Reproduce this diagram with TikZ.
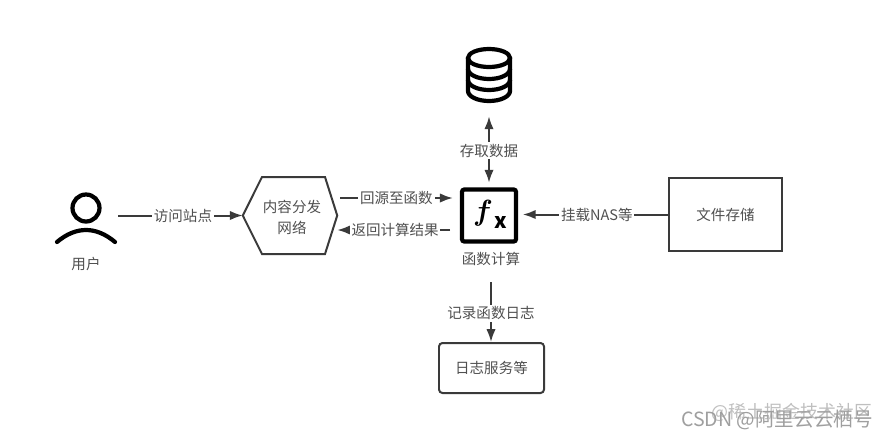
\documentclass[tikz,border=0pt]{standalone}
\usepackage{fontspec}
\usepackage{bm}
\setmainfont{Noto Sans CJK SC}
\usetikzlibrary{shapes, arrows.meta, positioning, calc}

\definecolor{inkdark}{HTML}{3A3A3A}
\definecolor{inktext}{HTML}{505050}
\tikzset{
    box/.style={draw=inkdark, line width=1.7pt, text=inktext},
    flow/.style={-{Latex[length=11pt, width=8pt]}, draw=inkdark, line width=1.7pt},
    twoway/.style={{Latex[length=11pt, width=8pt]}-{Latex[length=11pt, width=8pt]}, draw=inkdark, line width=1.7pt},
    lbl/.style={fill=white, text=inktext, inner sep=1.5pt, font=\fontsize{12.4pt}{14pt}\selectfont},
    caption/.style={text=inktext, inner sep=0pt, font=\fontsize{12.4pt}{14pt}\selectfont},
    icon/.style={draw=black, line width=3.6pt, line cap=round}
}

\begin{document}
\begin{tikzpicture}[x=0.03cm, y=-0.03cm]
    \useasboundingbox (0,0) rectangle (888,437);
    \fill[white] (0,0) rectangle (888,437);

    % User
    \node[inner sep=0pt, minimum width=1.92cm, minimum height=2.4cm] (user) at (86,217) {};
    \draw[icon] (86,208) circle (13.5);
    \draw[icon] (57,242) .. controls (76,226) and (96,226) .. (115,242);
    \node[caption] (userlabel) at (86,264) {用户};

    % Content network
    \node[inner sep=0pt, minimum width=2.82cm, minimum height=2.31cm] (cdn) at (290,215.5) {};
    \node[text=inktext, align=center, font=\fontsize{12.4pt}{18pt}\selectfont] (cdntext) at (292,217) {内容分发\\网络};
    \draw[box] (cdn.west) -- (262,177) -- (325,177) -- (cdn.east) -- (325,254) -- (262,254) -- cycle;

    % Function
    \node[draw=black, line width=3.6pt, rounded corners=2pt, minimum width=1.62cm, minimum height=1.56cm,
          inner sep=0pt] (fx) at (489,215.5) {};
    \node[inner sep=0pt, font=\fontsize{54pt}{54pt}\selectfont] (fxf) at (483,213) {$\bm{f}$};
    \node[inner sep=0pt, font=\bfseries\fontsize{18pt}{18pt}\selectfont] (fxx) at (501,222) {x};
    \node[caption] (fxlabel) at (491,259) {函数计算};

    % Database
    \node[inner sep=0pt, minimum width=1.32cm, minimum height=1.65cm] (db) at (489,74.5) {};
    \draw[icon] (468,58) -- (468,91) arc[start angle=180, end angle=360, x radius=21, y radius=-10] -- (510,58);
    \draw[icon] (489,58) ellipse (21 and 9);
    \draw[icon] (468,69) arc[start angle=180, end angle=360, x radius=21, y radius=-10];
    \draw[icon] (468,80) arc[start angle=180, end angle=360, x radius=21, y radius=-10];

    % Boxes
    \node[box, minimum width=3.39cm, minimum height=2.19cm, font=\fontsize{12.4pt}{14pt}\selectfont] (store) at (725.5,214.5) {文件存储};
    \node[box, rounded corners=3pt, minimum width=3.15cm, minimum height=1.5cm, font=\fontsize{12.4pt}{14pt}\selectfont] (logs) at (491.5,368) {日志服务等};

    % Connections
    \draw[flow] (user.east |- cdn.west) -- (cdn.west) node[lbl, pos=0.52] {访问站点};
    \coordinate (cdnout) at (340,198);
    \coordinate (fxout) at (450,230);
    \draw[flow] (cdnout) -- ([xshift=-6pt]fx.west |- cdnout) node[lbl, pos=0.5] {回源至函数};
    \draw[flow] (fxout) -- (cdn.east |- fxout) node[lbl, pos=0.487] {返回计算结果};
    \draw[flow] (store.west) -- ([xshift=4pt]fx.east |- store.west) node[lbl, pos=0.49] {挂载NAS等};
    \draw[twoway, shorten <=12pt, shorten >=4pt] (db.south) -- (fx.north) node[lbl, pos=0.57] {存取数据};
    \coordinate (logstart) at (491,282);
    \draw[flow] (logstart) -- (logs.north -| logstart) node[lbl, pos=0.52] {记录函数日志};

    % Watermark
    \node[inner sep=0pt, text=gray!50, font=\fontsize{15.3pt}{16pt}\selectfont] (mark1) at (792,412) {@稀土掘金技术社区};
    \node[inner sep=0pt, text=gray!75, font=\fontsize{16.7pt}{17pt}\selectfont] (mark2) at (777,420) {CSDN @阿里云云栖号};
\end{tikzpicture}
\end{document}
